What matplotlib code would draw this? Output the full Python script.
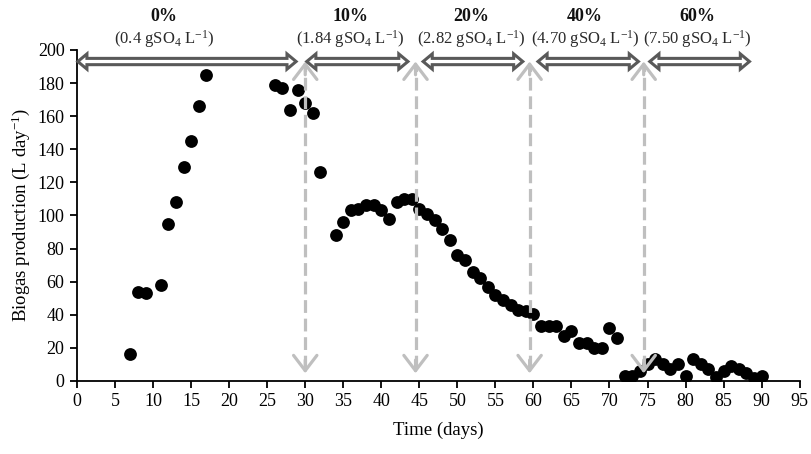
import matplotlib
matplotlib.use("Agg")
import matplotlib.pyplot as plt
from matplotlib.patches import Polygon

plt.rcParams['font.family'] = ['Liberation Serif', 'DejaVu Serif']
plt.rcParams['mathtext.fontset'] = 'custom'
plt.rcParams['mathtext.rm'] = 'Liberation Serif'
plt.rcParams['mathtext.it'] = 'Liberation Serif:italic'
plt.rcParams['mathtext.bf'] = 'Liberation Serif:bold'

# ---- data ----
days = [7, 8, 9, 11, 12, 13, 14, 15, 16, 17,
        26, 27, 28, 29, 30, 31, 32,
        34, 35, 36, 37, 38, 39, 40, 41, 42, 43, 44, 45, 46, 47, 48, 49, 50,
        51, 52, 53, 54, 55, 56, 57, 58, 59, 60,
        61, 62, 63, 64, 65, 66, 67, 68, 69, 70, 71, 72, 73, 74, 75, 76, 77,
        78, 79, 80, 81, 82, 83, 84, 85, 86, 87, 88, 89, 90]
biogas = [16, 54, 53, 58, 95, 108, 129, 145, 166, 185,
          179, 177, 164, 176, 168, 162, 126,
          88, 96, 103, 104, 106, 106, 103, 98, 108, 110, 110, 104, 101, 97, 92, 85, 76,
          73, 66, 62, 57, 52, 49, 46, 43, 42, 40.5,
          33, 33, 33, 27, 30, 23, 23, 20, 20, 32, 26, 3, 3, 6, 10, 13, 10,
          7, 10, 3, 13, 10, 7, 2.5, 6, 9, 7, 5, 1.5, 3]

phase_pct = ['0%', '10%', '20%', '40%', '60%']
phase_conc = ['0.4', '1.84', '2.82', '4.70', '7.50']
phase_start = [0.1, 30.2, 45.5, 60.6, 75.3]
phase_end = [28.8, 43.5, 58.6, 73.8, 88.4]
change_days = [30, 44.5, 59.5, 74.5]
label_centers = [11.4, 36.0, 51.8, 66.8, 81.6]

fig = plt.figure(figsize=(8.11, 4.54), dpi=100)
ax = fig.add_axes([0.095, 0.161, 0.891, 0.729])

ax.scatter(days, biogas, s=85, color='black', zorder=3, linewidths=0)

ax.set_xlim(0, 95)
ax.set_ylim(0, 200)
ax.set_xticks(range(0, 96, 5))
ax.set_yticks(range(0, 201, 20))
for s in ['top', 'right']:
    ax.spines[s].set_visible(False)
for s in ['left', 'bottom']:
    ax.spines[s].set_linewidth(1.3)
    ax.spines[s].set_color('black')
ax.tick_params(axis='both', direction='out', length=5, width=1.3, labelsize=13, pad=4)
ax.set_xlabel('Time (days)', fontsize=13.5, labelpad=8)
ax.set_ylabel(r'Biogas production (L day$^{\mathregular{-1}}$)', fontsize=13.5, labelpad=4)

# vertical dashed double arrows
y_top, y_bot = 193, 4.6
gcol = '#BFBFBF'
for xd in change_days:
    ax.plot([xd, xd], [y_bot + 3, y_top - 3], color=gcol, lw=2.3,
            dashes=(4, 1.8), zorder=4, solid_capstyle='butt', dash_capstyle='butt')
    for tip, tail in [(y_top, y_top - 8), (y_bot, y_bot + 8)]:
        ax.annotate('', xy=(xd, tip), xytext=(xd, tail),
                    arrowprops=dict(arrowstyle='->,head_length=0.55,head_width=0.42',
                                    color=gcol, lw=2.3, mutation_scale=20,
                                    shrinkA=0, shrinkB=0), zorder=4)

# horizontal hollow double arrows
ya = 193
hb = 1.9   # body half height (data units)
hh = 4.6   # head half height
hl = 1.2   # head length (days)
for x0, x1 in zip(phase_start, phase_end):
    pts = [(x0, ya), (x0 + hl, ya + hh), (x0 + hl, ya + hb), (x1 - hl, ya + hb),
           (x1 - hl, ya + hh), (x1, ya), (x1 - hl, ya - hh), (x1 - hl, ya - hb),
           (x0 + hl, ya - hb), (x0 + hl, ya - hh)]
    ax.add_patch(Polygon(pts, closed=True, facecolor='white', edgecolor='#595959',
                         lw=2.2, joinstyle='miter', clip_on=False, zorder=5))

for xc, pct, conc in zip(label_centers, phase_pct, phase_conc):
    ax.text(xc, 1.100, pct, transform=ax.get_xaxis_transform(), ha='center', va='center',
            fontsize=13, fontweight='bold', color='#111111')
    ax.text(xc, 1.032, '(' + conc + r' gSO$_{\mathregular{4}}$ L$^{\mathregular{-1}}$)',
            transform=ax.get_xaxis_transform(), ha='center', va='center',
            fontsize=12, color='#2a2a2a')

fig.savefig('out.png', dpi=100)
